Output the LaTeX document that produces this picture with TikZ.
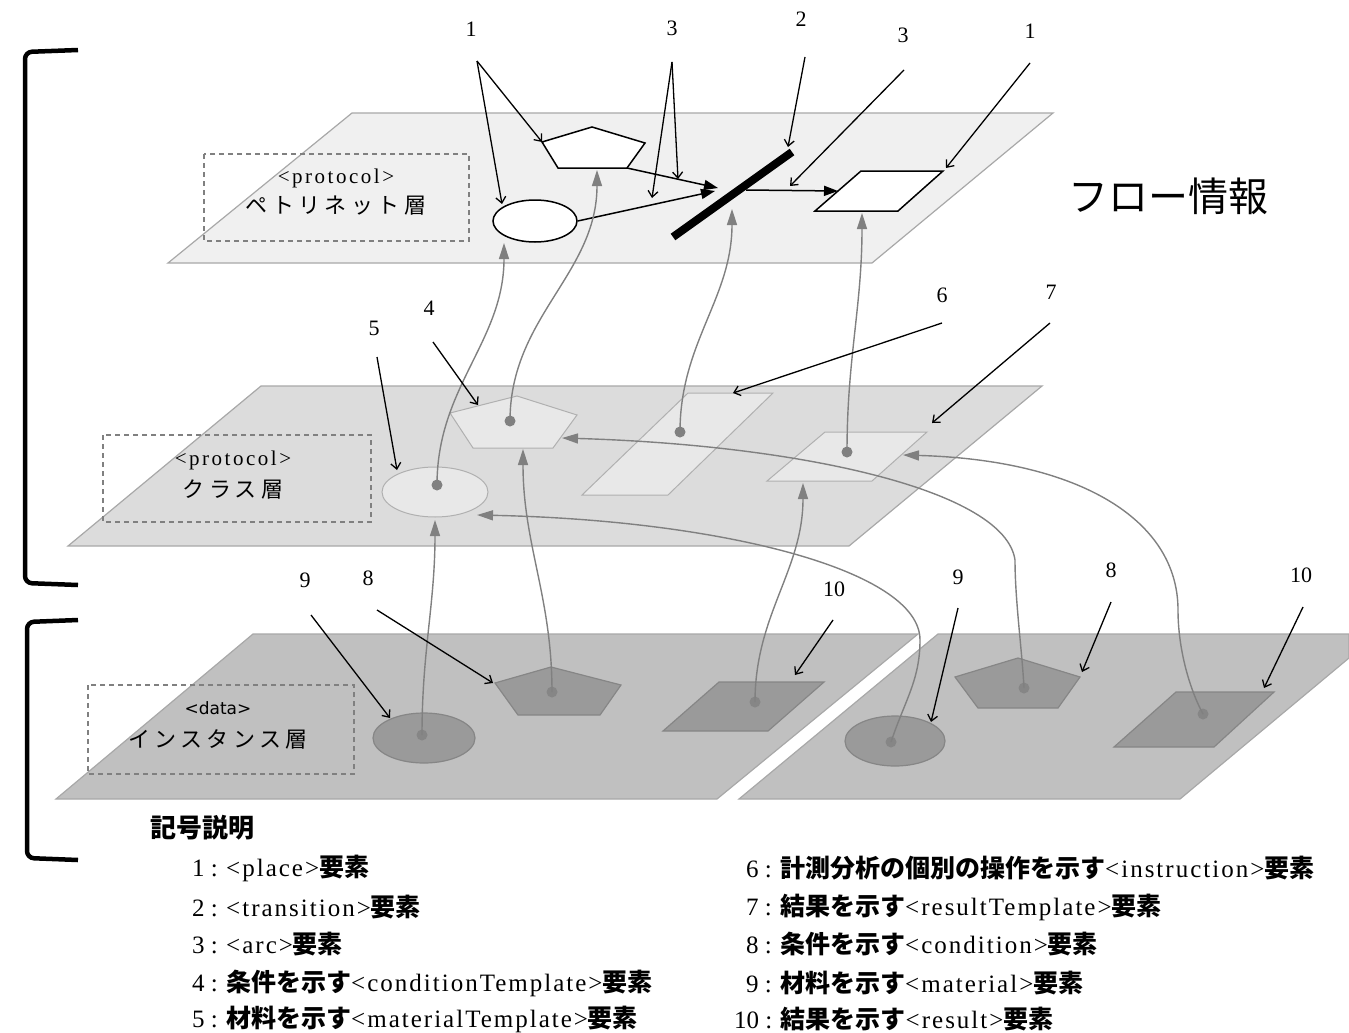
\documentclass[tikz,border=0pt]{standalone}
\usepackage{fontspec}
\setmainfont{Liberation Serif}
\newfontfamily\latw{Liberation Serif}[LetterSpace=8]
\newfontfamily\latww{Liberation Serif}[LetterSpace=12]
\newfontfamily\jp{Noto Sans CJK JP}
\newfontfamily\jpw{Noto Sans CJK JP}[LetterSpace=20]
\newfontfamily\sanslat{DejaVu Sans}
\usetikzlibrary{arrows.meta,shapes.geometric}
\definecolor{topfill}{HTML}{F0F0F0}
\definecolor{midfill}{HTML}{DCDCDC}
\definecolor{botfill}{HTML}{C0C0C0}
\definecolor{planeedge}{HTML}{A8A8A8}
\definecolor{midshape}{HTML}{E8E8E8}
\definecolor{midedge}{HTML}{B0B0B0}
\definecolor{botshape}{HTML}{9A9A9A}
\definecolor{botedge}{HTML}{868686}
\definecolor{linkgray}{HTML}{808080}
\definecolor{dashgray}{HTML}{808080}
\newcommand{\jpB}[1]{{\jp\bfseries #1}}
\newcommand{\lt}[1]{{\latw #1}}
\begin{document}
\begin{tikzpicture}[x=1pt,y=-1pt,
  numlab/.style={font=\fontsize{22}{24}\selectfont,inner sep=0},
  note/.style={draw=black,line width=1.3pt,-{Straight Barb[length=6pt,width=10pt]}},
  link/.style={draw=linkgray,line width=1.4pt,-{Triangle[length=16pt,width=10pt]}},
  pnarc/.style={draw=black,line width=1.5pt,-{Triangle[length=14pt,width=10pt]}},
  pnshape/.style={draw=black,line width=1.5pt,fill=white},
  midshp/.style={draw=midedge,line width=1pt,fill=midshape},
  botshp/.style={draw=botedge,line width=1.2pt,fill=botshape},
  layerbox/.style={draw=dashgray,line width=1.2pt,dash pattern=on 5pt off 4pt},
  plane/.style={draw=planeedge,line width=1.2pt},
  legend/.style={anchor=west,inner sep=0,font=\fontsize{25}{28}\selectfont},
  bracket/.style={draw=black,line width=4.5pt,rounded corners=7pt},
  layertxt/.style={inner sep=0,font=\fontsize{21}{23}\selectfont\latww},
  layerjp/.style={inner sep=0,font=\fontsize{22}{24}\selectfont\jpw},
]
\useasboundingbox (0,0) rectangle (1349,1033);

% ---------- brackets
\draw[bracket] (78,50) -- (25,52) -- (25,583) -- (78,585);
\draw[bracket] (78,620) -- (27,622) -- (27,858) -- (78,860);

% ---------- planes
\draw[plane,fill=topfill] (352,113) -- (1053,113) -- (872,263) -- (168,263) -- cycle;
\draw[plane,fill=midfill] (261,386) -- (1042,386) -- (849,546) -- (68,546) -- cycle;
\draw[plane,fill=botfill] (253,634) -- (918,634) -- (717,799) -- (56,799) -- cycle;
\draw[plane,fill=botfill] (938,634) -- (1349,634) -- (1349,658) -- (1180,799) -- (739,799) -- cycle;

% ---------- layer label boxes
\draw[layerbox] (204,154) rectangle (469,241);
\node[layertxt] (tl1) at (336,178) {<protocol>};
\node[layerjp] (tl2) at (336,206) {ペトリネット層};
\draw[layerbox] (103,435) rectangle (371,522);
\node[layertxt] (ml1) at (233,460) {<protocol>};
\node[layerjp] (ml2) at (233,489) {クラス層};
\draw[layerbox] (88,685) rectangle (354,774);
\node[inner sep=0,font=\fontsize{17}{19}\selectfont\sanslat] (bl1) at (218,708) {<data>};
\node[layerjp] (bl2) at (218,739) {インスタンス層};

\node[inner sep=0,font=\fontsize{40}{44}\selectfont\jp] (flow) at (1168,196) {フロー情報};

% ---------- top (Petri net) layer
\draw[pnshape] (542,142) -- (592,127) -- (645,143) -- (627,168) -- (558,168) -- cycle;
\node[pnshape,ellipse,minimum width=84pt,minimum height=42pt,inner sep=0] (E1) at (535,221) {};
\draw[pnshape] (861,171) -- (943,171) -- (898,211) -- (815,211) -- cycle;
\coordinate (tA) at (673,237);
\coordinate (tB) at (792,152);
\draw[black,line width=8pt] (tA) -- (tB);
\coordinate (p1l) at (542,142);
\coordinate (p1br) at (627,168);
\coordinate (p1in) at (597,170);
\coordinate (tin1) at (718,188);
\coordinate (tin2) at (715,191);
\coordinate (tout) at (746,190);
\coordinate (tin3) at (732,209);
\coordinate (q1l) at (838,191);
\coordinate (q1in) at (862,213);
\coordinate (q1tr) at (946,168);
\coordinate (e1in) at (504,243);
\coordinate (e1tl) at (502,204);
\draw[pnarc] (p1br) -- (tin1);
\draw[pnarc] (E1.east) -- (tin2);
\draw[pnarc] (tout) -- (q1l);

% ---------- middle (class) layer
\node[midshp,ellipse,minimum width=106pt,minimum height=50pt,inner sep=0] (M5) at (435,492) {};
\draw[midshp] (450,413) -- (517,396) -- (577,415) -- (553,448) -- (473,448) -- cycle;
\draw[midshp] (688,393) -- (773,393) -- (668,495) -- (582,495) -- cycle;
\draw[midshp] (825,432) -- (927,432) -- (872,481) -- (767,481) -- cycle;
\coordinate (m5d) at (437,485);
\coordinate (m4d) at (510,421);
\coordinate (m6d) at (680,432);
\coordinate (m7d) at (847,452);
\coordinate (m5in) at (435,520);
\coordinate (m5r) at (477,515);
\coordinate (m4in) at (523,449);
\coordinate (m4r) at (562,438);
\coordinate (m7in) at (803,483);
\coordinate (m7r) at (903,455);
\coordinate (m4tl) at (478,405);
\coordinate (m6t) at (733,393);
\coordinate (m7tr) at (932,423);
\coordinate (m5tl) at (397,470);

% ---------- bottom (instance) layer
\node[botshp,ellipse,minimum width=102pt,minimum height=50pt,inner sep=0] (B9L) at (424,738) {};
\draw[botshp] (495,683) -- (551,667) -- (621,685) -- (600,715) -- (518,715) -- cycle;
\draw[botshp] (719,682) -- (824,682) -- (768,731) -- (663,731) -- cycle;
\node[botshp,ellipse,minimum width=100pt,minimum height=50pt,inner sep=0] (B9R) at (895,741) {};
\draw[botshp] (955,677) -- (1018,658) -- (1080,677) -- (1058,708) -- (978,708) -- cycle;
\draw[botshp] (1176,692) -- (1274,692) -- (1214,747) -- (1114,747) -- cycle;
\coordinate (b9ld) at (422,735);
\coordinate (b8ld) at (552,692);
\coordinate (b10ld) at (755,702);
\coordinate (b9rd) at (891,742);
\coordinate (b8rd) at (1024,688);
\coordinate (b10rd) at (1203,714);
\coordinate (b9lt) at (390,718);
\coordinate (b8ll) at (493,683);
\coordinate (b10lt) at (795,675);
\coordinate (b9rt) at (931,722);
\coordinate (b8rr) at (1082,672);
\coordinate (b10rt) at (1264,688);

% ---------- dots
\foreach \d in {m5d,m4d,m6d,m7d} \fill[linkgray] (\d) circle (5.5);
\foreach \d in {b9ld,b8ld,b10ld,b9rd,b8rd,b10rd} \fill[botedge] (\d) circle (5.5);

% ---------- links between layers
\draw[link] (m5d) to[out=90,in=-90] (e1in);
\draw[link] (m4d) to[out=90,in=-90] (p1in);
\draw[link] (m6d) to[out=90,in=-90] (tin3);
\draw[link] (m7d) to[out=90,in=-90] (q1in);
\draw[link] (b9ld) to[out=90,in=-90] (m5in);
\draw[link] (b8ld) to[out=90,in=-90] (m4in);
\draw[link] (b10ld) to[out=90,in=-90] (m7in);
\draw[link] (b9rd) .. controls (905,700) and (920,680) .. (920,640) .. controls (920,570) and (720,520) .. (m5r);
\draw[link] (b8rd) .. controls (1022,650) and (1015,600) .. (1015,560) .. controls (1005,490) and (800,445) .. (m4r);
\draw[link] (b10rd) .. controls (1190,690) and (1178,650) .. (1178,610) .. controls (1178,520) and (1080,460) .. (m7r);

% ---------- number labels and pointers
\node[numlab] (n1a) at (471,29) {1};
\node[numlab] (n3a) at (672,28) {3};
\node[numlab] (n2) at (801,19) {2};
\node[numlab] (n3b) at (903,35) {3};
\node[numlab] (n1b) at (1030,31) {1};
\node[numlab] (n5) at (374,328) {5};
\node[numlab] (n4) at (429,308) {4};
\node[numlab] (n6) at (942,295) {6};
\node[numlab] (n7) at (1051,292) {7};
\node[numlab] (n9a) at (305,580) {9};
\node[numlab] (n8a) at (368,578) {8};
\node[numlab] (n10a) at (834,589) {10};
\node[numlab] (n9b) at (958,577) {9};
\node[numlab] (n8b) at (1111,570) {8};
\node[numlab] (n10b) at (1301,575) {10};

\coordinate (s1a) at (477,61);
\coordinate (s3a) at (672,62);
\coordinate (s2) at (805,57);
\coordinate (s3b) at (904,70);
\coordinate (s1b) at (1030,63);
\coordinate (s5) at (377,357);
\coordinate (s4) at (433,342);
\coordinate (s6) at (942,323);
\coordinate (s7) at (1050,323);
\coordinate (s9a) at (311,615);
\coordinate (s8a) at (377,610);
\coordinate (s10a) at (833,620);
\coordinate (s9b) at (958,608);
\coordinate (s8b) at (1111,602);
\coordinate (s10b) at (1303,607);
\coordinate (a3arc1) at (652,198);
\coordinate (a3arc2) at (678,179);
\coordinate (a2t) at (788,147);
\coordinate (a3arc3) at (790,186);

\draw[note] (s1a) -- (p1l);
\draw[note] (s1a) -- (e1tl);
\draw[note] (s3a) -- (a3arc1);
\draw[note] (s3a) -- (a3arc2);
\draw[note] (s2) -- (a2t);
\draw[note] (s3b) -- (a3arc3);
\draw[note] (s1b) -- (q1tr);
\draw[note] (s5) -- (m5tl);
\draw[note] (s4) -- (m4tl);
\draw[note] (s6) -- (m6t);
\draw[note] (s7) -- (m7tr);
\draw[note] (s9a) -- (b9lt);
\draw[note] (s8a) -- (b8ll);
\draw[note] (s10a) -- (b10lt);
\draw[note] (s9b) -- (b9rt);
\draw[note] (s8b) -- (b8rr);
\draw[note] (s10b) -- (b10rt);

% ---------- legend
\node[legend,font=\fontsize{26}{28}\selectfont] (g0) at (150,828) {\jpB{記号説明}};
\node[legend] (g1) at (192,868) {1 : \lt{<place>}\jpB{要素}};
\node[legend] (g2) at (192,907) {2 : \lt{<transition>}\jpB{要素}};
\node[legend] (g3) at (192,944) {3 : \lt{<arc>}\jpB{要素}};
\node[legend] (g4) at (192,983) {4 : \jpB{条件を示す}\lt{<conditionTemplate>}\jpB{要素}};
\node[legend] (g5) at (192,1019) {5 : \jpB{材料を示す}\lt{<materialTemplate>}\jpB{要素}};
\node[legend] (g6) at (746,868) {6 : \jpB{計測分析の個別の操作を示す}\lt{<instruction>}\jpB{要素}};
\node[legend] (g7) at (746,907) {7 : \jpB{結果を示す}\lt{<resultTemplate>}\jpB{要素}};
\node[legend] (g8) at (746,944) {8 : \jpB{条件を示す}\lt{<condition>}\jpB{要素}};
\node[legend] (g9) at (746,983) {9 : \jpB{材料を示す}\lt{<material>}\jpB{要素}};
\node[legend] (g10) at (734,1019) {10 : \jpB{結果を示す}\lt{<result>}\jpB{要素}};
\end{tikzpicture}
\end{document}
